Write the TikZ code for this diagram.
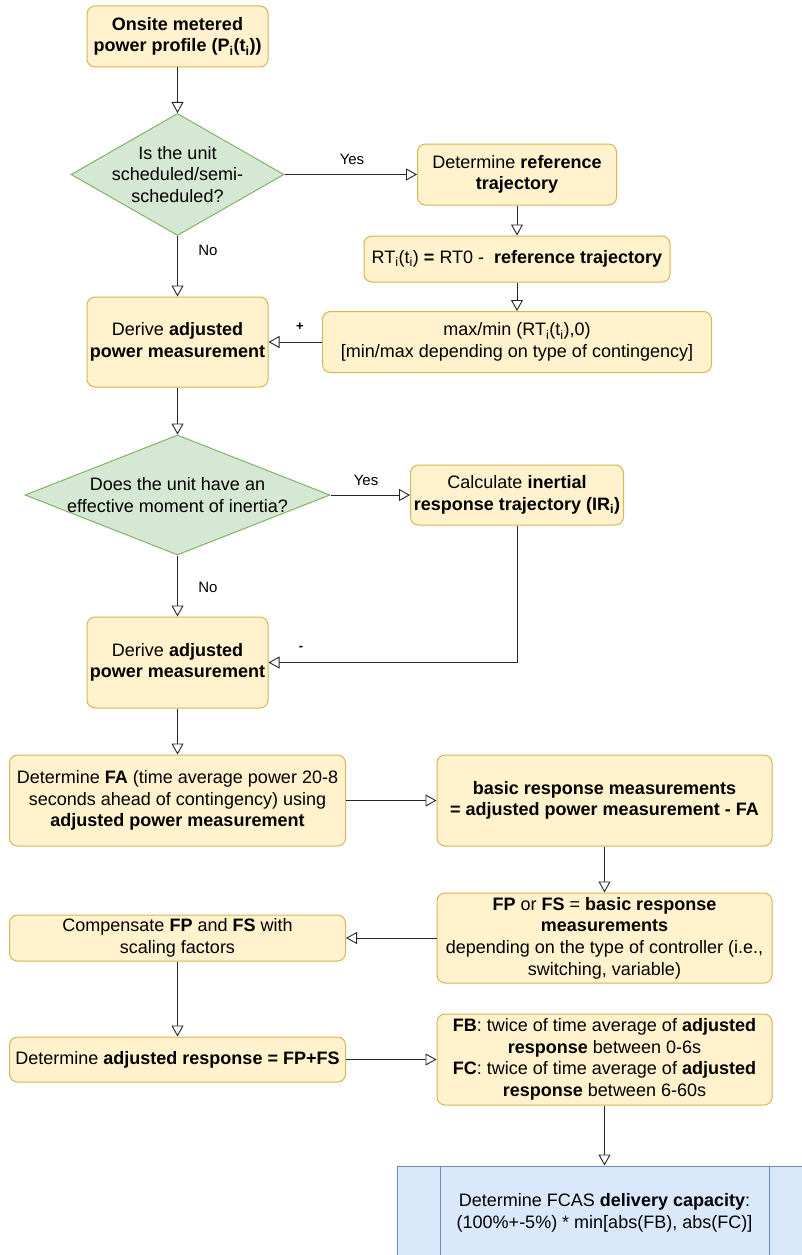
\documentclass[tikz,border=0pt]{standalone}
\usepackage{fontspec}
\setmainfont{Liberation Sans}
\usetikzlibrary{arrows.meta, shapes.geometric}

\definecolor{procfill}{HTML}{FFF2CC}
\definecolor{procline}{HTML}{D6B656}
\definecolor{decfill}{HTML}{D5E8D4}
\definecolor{decline}{HTML}{82B366}
\definecolor{endfill}{HTML}{DAE8FC}
\definecolor{endline}{HTML}{6C8EBF}

\tikzset{
    procbox/.style = {draw = procline, fill = procfill, rounded corners = 8pt,
        align = center, inner sep = 0pt, line width = 1pt},
    decision/.style = {diamond, draw = decline, fill = decfill, inner sep = 0pt,
        line width = 1pt},
    decisiontext/.style = {align = center, inner sep = 0pt},
    predefined/.style = {draw = endline, fill = endfill, align = center,
        inner sep = 0pt, line width = 1pt},
    flow/.style = {draw = black!85, line width = 0.9pt,
        -{Triangle[open, fill = white, length = 11pt, width = 12pt]}},
    edgelabel/.style = {font = \fontsize{15}{18}\selectfont},
    signlabel/.style = {font = \bfseries\fontsize{13}{15}\selectfont}
}

\begin{document}
\begin{tikzpicture}[x = 1pt, y = -1pt, font = \fontsize{18}{21.6}\selectfont]
    \useasboundingbox [fill = white] (0, 0) rectangle (801, 1255);

    % left column
    \node (onsite) at (177.5, 36.5) [procbox, minimum width = 181, minimum height = 61]
        {\textbf{Onsite metered}\\\textbf{power profile (P\textsubscript{i}(t\textsubscript{i}))}};
    \node (sched) at (177.5, 174.5) [decision, minimum width = 213, minimum height = 122,
        label = {[decisiontext]center:Is the unit\\scheduled/semi-\\scheduled?}] {};
    \node (adjust1) at (177.5, 342) [procbox, minimum width = 181, minimum height = 90]
        {Derive \textbf{adjusted}\\\textbf{power measurement}};
    \node (inertia) at (177.5, 495) [decision, minimum width = 305, minimum height = 120,
        label = {[decisiontext]center:Does the unit have an\\effective moment of inertia?}] {};
    \node (adjust2) at (177.5, 662.5) [procbox, minimum width = 181, minimum height = 91]
        {Derive \textbf{adjusted}\\\textbf{power measurement}};
    \node (fabox) at (177.5, 800.5) [procbox, minimum width = 336, minimum height = 91]
        {Determine \textbf{FA} (time average power 20-8\\seconds ahead of contingency) using\\\textbf{adjusted power measurement}};
    \node (comp) at (177.5, 938) [procbox, minimum width = 336, minimum height = 46]
        {Compensate \textbf{FP} and \textbf{FS} with\\scaling factors};
    \node (adjresp) at (177.5, 1059.5) [procbox, minimum width = 336, minimum height = 45]
        {Determine \textbf{adjusted response = FP+FS}};

    % right column
    \node (refdet) at (517, 174.5) [procbox, minimum width = 199, minimum height = 61]
        {Determine \textbf{reference}\\\textbf{trajectory}};
    \node (rtbox) at (517, 259) [procbox, minimum width = 306, minimum height = 46]
        {RT\textsubscript{i}(t\textsubscript{i}) \textbf{=} RT0 -\ \ \textbf{reference trajectory}};
    \node (maxmin) at (517, 342) [procbox, minimum width = 389, minimum height = 61]
        {max/min (RT\textsubscript{i}(t\textsubscript{i}),0)\\{}[min/max depending on type of contingency]};
    \node (inertial) at (517, 495) [procbox, minimum width = 213, minimum height = 60]
        {Calculate \textbf{inertial}\\\textbf{response trajectory (IR\textsubscript{i})}};
    \node (basic) at (604.5, 800.5) [procbox, minimum width = 335, minimum height = 91]
        {\textbf{basic response measurements}\\\textbf{= adjusted power measurement - FA}};
    \node (fpfs) at (604.5, 938) [procbox, minimum width = 335, minimum height = 90]
        {\textbf{FP} or \textbf{FS} = \textbf{basic response}\\\textbf{measurements}\\depending on the type of controller (i.e.,\\switching, variable)};
    \node (fbfc) at (604.5, 1059.5) [procbox, minimum width = 335, minimum height = 91]
        {\textbf{FB}: twice of time average of \textbf{adjusted}\\\textbf{response} between 0-6s\\\textbf{FC}: twice of time average of \textbf{adjusted}\\\textbf{response} between 6-60s};
    \node (fcas) at (604.5, 1213) [predefined, minimum width = 414, minimum height = 94]
        {Determine FCAS \textbf{delivery capacity}:\\(100\%+-5\%) * min[abs(FB), abs(FC)]};
    \draw [endline, line width = 1pt] ([xshift = 43] fcas.north west) -- ([xshift = 43] fcas.south west);
    \draw [endline, line width = 1pt] ([xshift = -43] fcas.north east) -- ([xshift = -43] fcas.south east);

    % connectors
    \draw [flow] (onsite) -- (sched);
    \draw [flow] (sched) -- (refdet);
    \draw [flow] (refdet) -- (rtbox);
    \draw [flow] (rtbox) -- (maxmin);
    \draw [flow] (maxmin) -- (adjust1);
    \draw [flow] (sched) -- (adjust1);
    \draw [flow] (adjust1) -- (inertia);
    \draw [flow] (inertia) -- (inertial);
    \draw [flow] (inertia) -- (adjust2);
    \draw [flow] (inertial) |- (adjust2);
    \draw [flow] (adjust2) -- (fabox);
    \draw [flow] (fabox) -- (basic);
    \draw [flow] (basic) -- (fpfs);
    \draw [flow] (fpfs) -- (comp);
    \draw [flow] (comp) -- (adjresp);
    \draw [flow] (adjresp) -- (fbfc);
    \draw [flow] (fbfc) -- (fcas);

    \node (yes1) at (352, 159) [edgelabel] {Yes};
    \node (no1) at (208, 250) [edgelabel] {No};
    \node (plus) at (300, 327) [signlabel] {+};
    \node (yes2) at (366, 480) [edgelabel] {Yes};
    \node (no2) at (208, 587) [edgelabel] {No};
    \node (minus) at (301, 648) [signlabel] {-};
\end{tikzpicture}
\end{document}
